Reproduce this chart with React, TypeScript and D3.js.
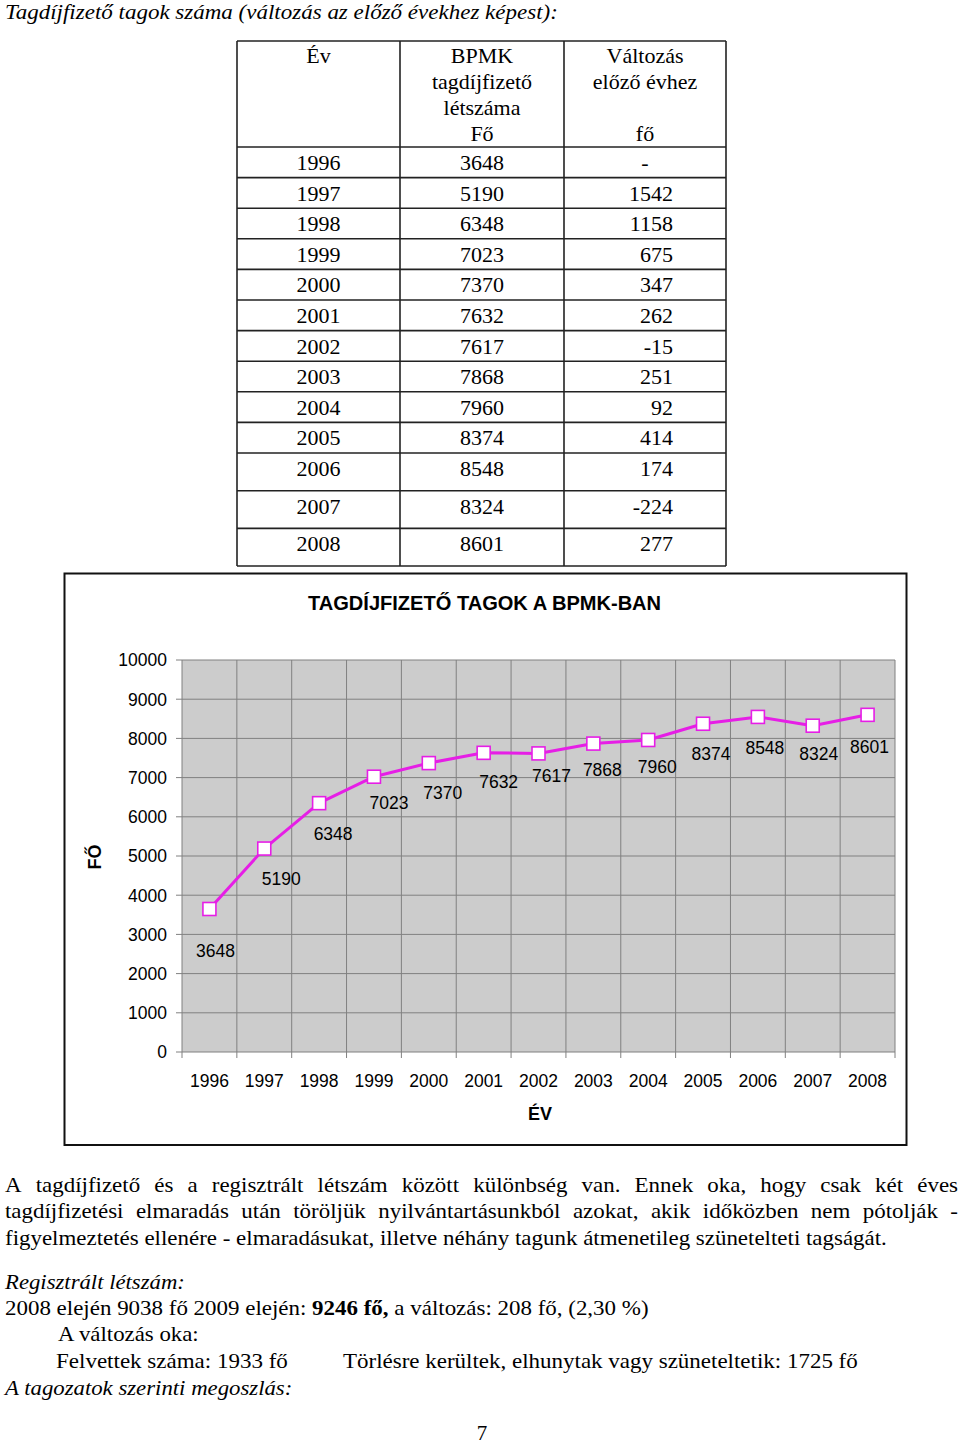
import React from 'react';
import * as d3 from 'd3';

// ---------- data ----------
const years = ['1996', '1997', '1998', '1999', '2000', '2001', '2002', '2003', '2004', '2005', '2006', '2007', '2008'];
const members = [3648, 5190, 6348, 7023, 7370, 7632, 7617, 7868, 7960, 8374, 8548, 8324, 8601];
const changes = ['-', '1542', '1158', '675', '347', '262', '-15', '251', '92', '414', '174', '-224', '277'];
const yTicks = [0, 1000, 2000, 3000, 4000, 5000, 6000, 7000, 8000, 9000, 10000];

const chartTitle = 'TAGDÍJFIZETŐ TAGOK A BPMK-BAN';
const yAxisTitle = 'FŐ';
const xAxisTitle = 'ÉV';
const pageTitle = 'Tagdíjfizető tagok száma (változás az előző évekhez képest):';

// label nudges (layout only), relative to each point
const labelNudge: [number, number][] = [
  [6, 42], [17, 30], [14, 31], [15, 26], [14, 30], [15, 29], [13, 22],
  [9, 26], [9, 27], [8, 30], [7, 31], [6, 28], [2, 32],
];

const SERIF = '"Liberation Serif", "Times New Roman", serif';
const SANS = '"Liberation Sans", Arial, sans-serif';
const MAG = '#E61EE6';

let _ctx: CanvasRenderingContext2D | null = null;
function measure(text: string, font: string): number {
  if (!_ctx) _ctx = document.createElement('canvas').getContext('2d');
  _ctx!.font = font;
  return _ctx!.measureText(text).width;
}

type Seg = { t: string; b?: boolean; i?: boolean };
function fontOf(s: Seg, size: number, fam: string) {
  return `${s.i ? 'italic ' : ''}${s.b ? 'bold ' : ''}${size}px ${fam}`;
}

function FitText({ x0, x1, y, segs, size, fam = SERIF }: { x0: number; x1: number; y: number; segs: Seg[]; size: number; fam?: string }) {
  const nat = segs.reduce((a, s) => a + measure(s.t, fontOf(s, size, fam)), 0);
  const k = (x1 - x0) / nat;
  return (
    <text transform={`translate(${x0},${y}) scale(${k},1)`} fontFamily={fam} fontSize={size} fill="#000">
      {segs.map((s, i) => (
        <tspan key={i} fontWeight={s.b ? 'bold' : 'normal'} fontStyle={s.i ? 'italic' : 'normal'}>{s.t}</tspan>
      ))}
    </text>
  );
}

function JustText({ x0, x1, y, text, size, k }: { x0: number; x1: number; y: number; text: string; size: number; k: number }) {
  const words = text.split(' ');
  const font = `${size}px ${SERIF}`;
  const ws = words.map((w) => measure(w, font) * k);
  const total = ws.reduce((a, b) => a + b, 0);
  const gap = (x1 - x0 - total) / (words.length - 1);
  let cx = x0;
  return (
    <g>
      {words.map((w, i) => {
        const px = cx;
        cx += ws[i] + gap;
        return (
          <text key={i} transform={`translate(${px},${y}) scale(${k},1)`} fontFamily={SERIF} fontSize={size} fill="#000">{w}</text>
        );
      })}
    </g>
  );
}

export default function App() {
  // ---------- table layout ----------
  const colX = [237, 400, 564, 726];
  const tableTop = 41;
  const headBottom = 147;
  const rowTops = years.map((_, i) => (i <= 10 ? headBottom + i * 30.6 : 453 + (i - 10) * 37.7));
  const tableBottom = 566;
  const hLines = [tableTop, ...rowTops, tableBottom];

  // ---------- chart scales ----------
  const x = d3.scaleBand<string>().domain(years).range([182, 895]).padding(0);
  const y = d3.scaleLinear().domain([0, 10000]).range([1052, 660]);
  const bw = x.bandwidth();
  const cx = (yr: string) => (x(yr) as number) + bw / 2;
  const line = d3.line<number>().x((_, i) => cx(years[i])).y((d) => y(d));
  const boundaries = d3.range(years.length + 1).map((i) => 182 + i * bw);

  // body text condense factor from the last (unjustified) line
  const bodySize = 22;
  const l3 = 'figyelmeztetés ellenére - elmaradásukat, illetve néhány tagunk átmenetileg szünetelteti tagságát.';
  const kBody = (887 - 5) / measure(l3, `${bodySize}px ${SERIF}`);

  const tStyle = { fontFamily: SERIF, fontSize: 22, fill: '#000' } as const;

  return (
    <svg width={960} height={1446} style={{ position: 'absolute', left: 0, top: 0, background: '#fff' }}>
      <rect x={0} y={0} width={960} height={1446} fill="#fff" />
      {/* page title */}
      <FitText x0={5} x1={558} y={19} size={22} segs={[{ t: pageTitle, i: true }]} />

      {/* table */}
      <g stroke="#222" strokeWidth={1.6}>
        {hLines.map((yy, i) => (
          <line key={i} x1={colX[0]} x2={colX[3]} y1={yy} y2={yy} />
        ))}
        {colX.map((xx, i) => (
          <line key={i} x1={xx} x2={xx} y1={tableTop} y2={tableBottom} />
        ))}
      </g>
      <g {...tStyle} textAnchor="middle">
        <text x={318.5} y={63}>Év</text>
        <text x={482} y={63}>BPMK</text>
        <text x={482} y={89}>tagdíjfizető</text>
        <text x={482} y={115}>létszáma</text>
        <text x={482} y={141}>Fő</text>
        <text x={645} y={63}>Változás</text>
        <text x={645} y={89}>előző évhez</text>
        <text x={645} y={141}>fő</text>
      </g>
      {years.map((yr, i) => (
        <g key={yr} {...tStyle}>
          <text x={318.5} y={rowTops[i] + 23} textAnchor="middle">{yr}</text>
          <text x={482} y={rowTops[i] + 23} textAnchor="middle">{members[i]}</text>
          {changes[i] === '-' ? (
            <text x={645} y={rowTops[i] + 23} textAnchor="middle">-</text>
          ) : (
            <text x={673} y={rowTops[i] + 23} textAnchor="end">{changes[i]}</text>
          )}
        </g>
      ))}

      {/* chart frame */}
      <rect x={64.5} y={573.5} width={842} height={571.5} fill="#fff" stroke="#111" strokeWidth={2} />
      <FitText x0={308} x1={663} y={610} size={19.5} fam={SANS} segs={[{ t: chartTitle, b: true }]} />

      {/* plot area */}
      <rect x={182} y={660} width={713} height={392} fill="#CCCCCC" />
      <g stroke="#808080" strokeWidth={1}>
        {yTicks.map((t) => (
          <line key={t} x1={176} x2={895} y1={y(t)} y2={y(t)} />
        ))}
        {boundaries.map((bx, i) => (
          <line key={i} x1={bx} x2={bx} y1={660} y2={1058} />
        ))}
      </g>
      <g fontFamily={SANS} fontSize={17.5} fill="#000">
        {yTicks.map((t) => (
          <text key={t} x={167} y={y(t) + 6.3} textAnchor="end">{t}</text>
        ))}
        {years.map((yr) => (
          <text key={yr} x={cx(yr)} y={1087} textAnchor="middle">{yr}</text>
        ))}
      </g>
      <text x={540} y={1120} textAnchor="middle" fontFamily={SANS} fontWeight="bold" fontSize={18}>{xAxisTitle}</text>
      <text transform="translate(101,857) rotate(-90)" textAnchor="middle" fontFamily={SANS} fontWeight="bold" fontSize={18}>{yAxisTitle}</text>

      {/* series */}
      <path d={line(members) || ''} fill="none" stroke={MAG} strokeWidth={3} strokeLinejoin="round" />
      {members.map((v, i) => (
        <rect key={i} x={cx(years[i]) - 6.5} y={y(v) - 6.5} width={13} height={13} fill="#fff" stroke={MAG} strokeWidth={1.6} />
      ))}
      <g fontFamily={SANS} fontSize={17.5} fill="#000" textAnchor="middle">
        {members.map((v, i) => (
          <text key={i} x={cx(years[i]) + labelNudge[i][0]} y={y(v) + labelNudge[i][1] + 6.3}>{v}</text>
        ))}
      </g>

      {/* body text */}
      <JustText x0={5} x1={958} y={1192} size={bodySize} k={kBody}
        text="A tagdíjfizető és a regisztrált létszám között különbség van. Ennek oka, hogy csak két éves" />
      <JustText x0={5} x1={958} y={1218} size={bodySize} k={kBody}
        text="tagdíjfizetési elmaradás után töröljük nyilvántartásunkból azokat, akik időközben nem pótolják -" />
      <FitText x0={5} x1={887} y={1245} size={bodySize} segs={[{ t: l3 }]} />
      <FitText x0={5} x1={185} y={1289} size={bodySize} segs={[{ t: 'Regisztrált létszám:', i: true }]} />
      <FitText x0={5} x1={649} y={1315} size={bodySize}
        segs={[{ t: '2008 elején 9038 fő 2009 elején: ' }, { t: '9246 fő,', b: true }, { t: ' a változás: 208 fő, (2,30 %)' }]} />
      <FitText x0={58} x1={200} y={1341} size={bodySize} segs={[{ t: 'A változás oka:' }]} />
      <FitText x0={56} x1={288} y={1368} size={bodySize} segs={[{ t: 'Felvettek száma: 1933 fő' }]} />
      <FitText x0={343} x1={858} y={1368} size={bodySize} segs={[{ t: 'Törlésre kerültek, elhunytak vagy szüneteltetik: 1725 fő' }]} />
      <FitText x0={5} x1={293} y={1395} size={bodySize} segs={[{ t: 'A tagozatok szerinti megoszlás:', i: true }]} />
      <text x={482} y={1440} textAnchor="middle" fontFamily={SERIF} fontSize={21}>7</text>
    </svg>
  );
}
